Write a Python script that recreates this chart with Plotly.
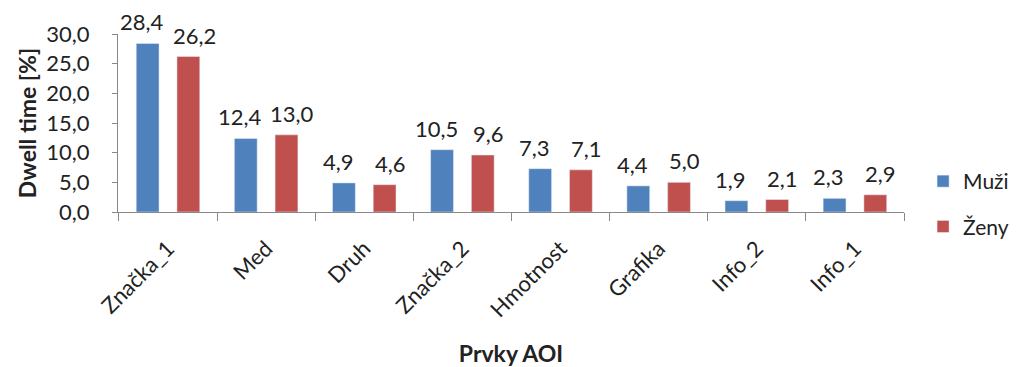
import plotly.graph_objects as go

categories = ["Značka_1", "Med", "Druh", "Značka_2", "Hmotnost", "Grafika", "Info_2", "Info_1"]
muzi = [28.4, 12.4, 4.9, 10.5, 7.3, 4.4, 1.9, 2.3]
zeny = [26.2, 13.0, 4.6, 9.6, 7.1, 5.0, 2.1, 2.9]

FONT = "Lato"
TXT = "#222"
fig = go.Figure()
fig.add_bar(x=categories, y=muzi, name="Muži", marker_color="#4F81BD", legendgroup="a")
fig.add_bar(x=categories, y=zeny, name="Ženy", marker_color="#C0504D", legendgroup="b")

# value labels above bars
annotations = []
for series, shift in ((muzi, -26), (zeny, 26)):
    for c, v in zip(categories, series):
        annotations.append(dict(
            x=c, y=v, xref="x", yref="y", text=f"{v:.1f}".replace(".", ","),
            showarrow=False, xshift=shift, yshift=6, yanchor="bottom",
            font=dict(family=FONT, size=22, color=TXT)))

fig.update_layout(
    width=1012, height=359,
    margin=dict(l=110, r=116, t=26, b=155, autoexpand=False),
    paper_bgcolor="white", plot_bgcolor="white",
    separators=", ",
    barmode="group", bargap=0.17, bargroupgap=0.44,
    font=dict(family=FONT, size=22, color=TXT),
    annotations=annotations,
    legend=dict(x=1.037, y=0.045, yanchor="middle", xanchor="left",
                traceorder="grouped", tracegroupgap=15, indentation=-10,
                font=dict(size=21)),
    xaxis=dict(
        automargin=False,
        tickangle=-45, tickson="boundaries", ticks="outside", ticklen=8,
        tickcolor="#888", showline=True, linecolor="#888", linewidth=1,
        tickfont=dict(size=22), ticklabelstandoff=14,
        title=dict(text="<b>Prvky AOI</b>", font=dict(size=23), standoff=24),
    ),
    yaxis=dict(
        automargin=False,
        range=[0, 30], dtick=5, tickformat=".1f", ticks="outside", ticklen=5,
        tickcolor="#888", showline=True, linecolor="#888", linewidth=1,
        showgrid=False, zeroline=False, tickfont=dict(size=22),
        ticklabelstandoff=18,
        title=dict(text="<b>Dwell time [%]</b>", font=dict(size=23), standoff=3),
    ),
)

fig.write_html("out.html")
